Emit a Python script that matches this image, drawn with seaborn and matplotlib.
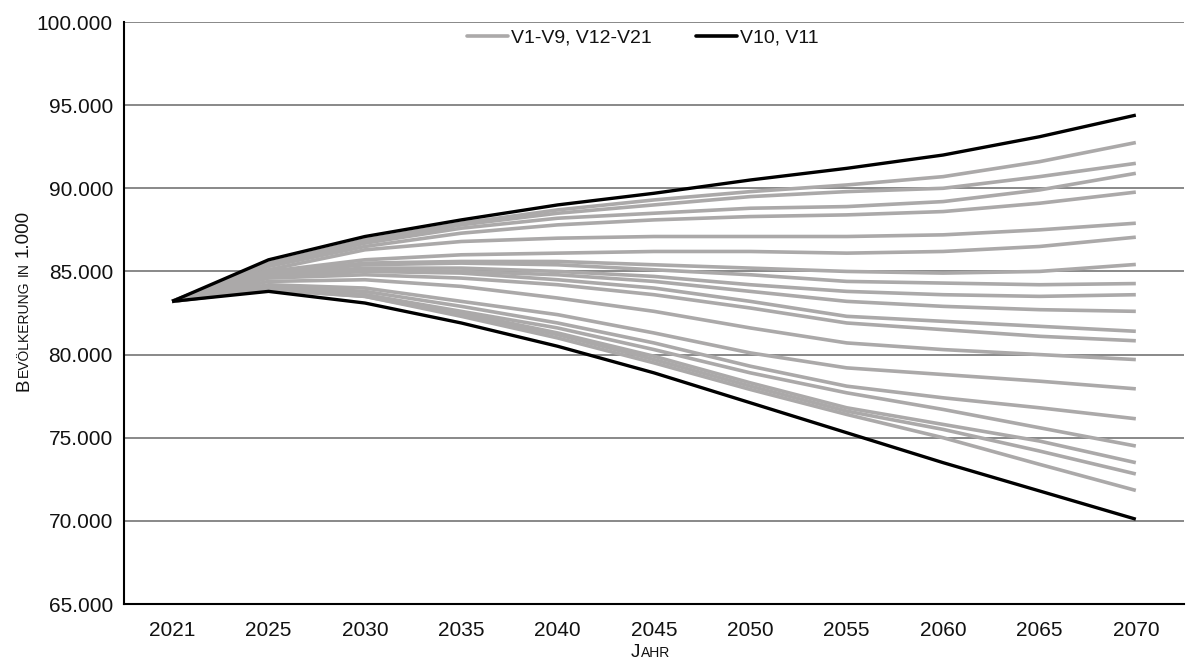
import pandas as pd
import matplotlib
matplotlib.use("Agg")
import matplotlib.pyplot as plt
import matplotlib.transforms as mtransforms
from matplotlib.font_manager import FontProperties
from matplotlib.lines import Line2D
from matplotlib.ticker import FuncFormatter, MultipleLocator
import seaborn as sns

# Jahre (kategoriale x-Achse)
jahre = ["2021", "2025", "2030", "2035", "2040", "2045",
         "2050", "2055", "2060", "2065", "2070"]

# Bevölkerung in 1.000 – Varianten V10 und V11
schwarz_hoch = [83200, 85700, 87100, 88100, 89000, 89700, 90500, 91200, 92000, 93100, 94400]
schwarz_tief = [83200, 83800, 83100, 81900, 80500, 78900, 77100, 75300, 73500, 71800, 70100]

# Bevölkerung in 1.000 – übrige Varianten (V1-V9, V12-V21)
grau_01 = [83200, 85500, 86900, 87900, 88700, 89300, 89800, 90200, 90700, 91600, 92750]
grau_02 = [83200, 85400, 86800, 87800, 88500, 89000, 89500, 89800, 90000, 90700, 91500]
grau_03 = [83200, 85400, 86700, 87600, 88200, 88500, 88800, 88900, 89200, 89900, 90900]
grau_04 = [83200, 85300, 86500, 87300, 87800, 88100, 88300, 88400, 88600, 89100, 89770]
grau_05 = [83200, 85100, 86300, 86800, 87000, 87100, 87100, 87100, 87200, 87500, 87900]
grau_06 = [83200, 85000, 85700, 86000, 86100, 86200, 86200, 86100, 86200, 86500, 87060]
grau_07 = [83200, 84900, 85500, 85600, 85600, 85400, 85200, 85000, 84900, 85000, 85420]
grau_08 = [83200, 84900, 85400, 85500, 85400, 85100, 84800, 84400, 84300, 84200, 84270]
grau_09 = [83200, 84800, 85200, 85200, 85000, 84700, 84200, 83800, 83600, 83500, 83600]
grau_10 = [83200, 84700, 85100, 85000, 84800, 84400, 83800, 83200, 82900, 82700, 82600]
grau_11 = [83200, 84700, 85000, 84900, 84500, 84000, 83200, 82300, 82000, 81700, 81400]
grau_12 = [83200, 84600, 84800, 84600, 84200, 83600, 82800, 81900, 81500, 81100, 80830]
grau_13 = [83200, 84400, 84500, 84100, 83400, 82600, 81600, 80700, 80300, 80000, 79700]
grau_14 = [83200, 84200, 84000, 83200, 82400, 81300, 80100, 79200, 78800, 78400, 77940]
grau_15 = [83200, 84100, 83800, 82900, 81900, 80700, 79300, 78100, 77400, 76800, 76140]
grau_16 = [83200, 84000, 83600, 82600, 81600, 80300, 78900, 77700, 76700, 75600, 74500]
grau_17 = [83200, 84000, 83600, 82500, 81300, 79900, 78300, 76800, 75800, 74800, 73500]
grau_18 = [83200, 83900, 83500, 82400, 81200, 79700, 78100, 76600, 75500, 74200, 72820]
grau_19 = [83200, 83900, 83500, 82300, 81000, 79500, 77900, 76400, 75000, 73400, 71830]

label_grau = "V1-V9, V12-V21"
label_schwarz = "V10, V11"

grau_reihen = [grau_01, grau_02, grau_03, grau_04, grau_05, grau_06, grau_07,
               grau_08, grau_09, grau_10, grau_11, grau_12, grau_13, grau_14,
               grau_15, grau_16, grau_17, grau_18, grau_19]
schwarz_reihen = [schwarz_hoch, schwarz_tief]

FARBE_GRAU = "#aba9a9"
FARBE_SCHWARZ = "#000000"
FARBE_TEXT = "#111111"
FONT = "Liberation Sans"

# Long-Format-Tabelle für seaborn
zeilen = []
for gruppe, reihen in (("grau", grau_reihen), ("schwarz", schwarz_reihen)):
    for k, werte in enumerate(reihen):
        for jahr, wert in zip(jahre, werte):
            zeilen.append({"Jahr": jahr, "Wert": wert,
                           "Variante": f"{gruppe}{k}", "Gruppe": gruppe})
df = pd.DataFrame(zeilen)

sns.set_style("white")
plt.rcParams["font.family"] = [FONT, "DejaVu Sans"]

W, H = 1194, 663
fig = plt.figure(figsize=(W / 100, H / 100), dpi=100)
ax = fig.add_axes([124 / W, 59 / H, 1060 / W, 582 / H])

sns.lineplot(data=df[df.Gruppe == "grau"], x="Jahr", y="Wert", units="Variante",
             estimator=None, sort=False, color=FARBE_GRAU, lw=2.6,
             legend=False, ax=ax)
sns.lineplot(data=df[df.Gruppe == "schwarz"], x="Jahr", y="Wert", units="Variante",
             estimator=None, sort=False, color=FARBE_SCHWARZ, lw=2.4,
             legend=False, ax=ax)
for ln in ax.get_lines():
    ln.set_solid_capstyle("butt")
    ln.set_solid_joinstyle("round")

ax.set_xlim(-0.5, len(jahre) - 0.5)
ax.set_ylim(65000, 100000)
ax.yaxis.set_major_locator(MultipleLocator(5000))
ax.yaxis.set_major_formatter(
    FuncFormatter(lambda v, _: f"{int(round(v)):,}".replace(",", ".")))
ax.yaxis.grid(True, color="#888888", lw=1.4, zorder=0)
ax.xaxis.grid(False)
ax.set_axisbelow(True)

for side in ("top", "right"):
    ax.spines[side].set_visible(False)
for side in ("left", "bottom"):
    ax.spines[side].set_color("#000000")
    ax.spines[side].set_linewidth(1.5)
    ax.spines[side].set_zorder(5)

ax.tick_params(axis="x", length=0, pad=12.5, labelsize=15, labelcolor=FARBE_TEXT)
ax.tick_params(axis="y", length=0, pad=8, labelsize=15, labelcolor=FARBE_TEXT)
ax.set_xlabel("")
ax.set_ylabel("")

handles = [Line2D([], [], color=FARBE_GRAU, lw=2.6),
           Line2D([], [], color=FARBE_SCHWARZ, lw=2.6)]
ax.legend(handles, [label_grau, label_schwarz], loc="center", ncol=2,
          bbox_to_anchor=(643 / W, 1 - 38 / H), bbox_transform=fig.transFigure,
          frameon=False, fontsize=14, handlelength=2.1, handletextpad=0.15,
          columnspacing=2.3, borderpad=0, labelcolor=FARBE_TEXT)


def kapitaelchen(teile, x, y, rotation=0, luecke=4.0):
    """Setzt Text in Kapitälchen aus Stücken unterschiedlicher Größe zusammen.
    x, y: Pixel; Mitte entlang der Schreibrichtung, Grundlinie quer dazu."""
    renderer = fig.canvas.get_renderer()
    breiten = []
    for s, groesse in teile:
        if s == " ":
            breiten.append(luecke)
            continue
        fp = FontProperties(family=FONT, size=groesse)
        w, _, _ = renderer.get_text_width_height_descent(s, fp, ismath=False)
        breiten.append(w + 0.8)
    gesamt = sum(breiten)
    pos = (x if rotation == 0 else y) - gesamt / 2
    for (s, groesse), b in zip(teile, breiten):
        if s != " ":
            px, py = (pos, y) if rotation == 0 else (x, pos)
            fig.text(px, py, s, fontsize=groesse, family=FONT, color=FARBE_TEXT,
                     rotation=rotation, rotation_mode="anchor",
                     ha="left", va="baseline",
                     transform=mtransforms.IdentityTransform())
        pos += b


GROSS, KLEIN = 13.5, 10.0
fig.canvas.draw()
kapitaelchen([("B", GROSS), ("EVÖLKERUNG", KLEIN), (" ", 0), ("IN", KLEIN),
              (" ", 0), ("1.000", GROSS)], x=28, y=H - 300, rotation=90)
kapitaelchen([("J", GROSS), ("AHR", KLEIN)], x=651, y=H - 657, rotation=0)

fig.savefig("out.png", dpi=100, facecolor="white")
